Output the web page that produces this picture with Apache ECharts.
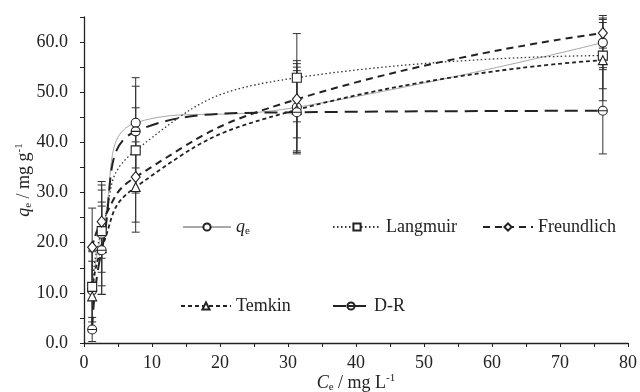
<!DOCTYPE html>
<html>
<head>
<meta charset="utf-8">
<script src="https://cdn.jsdelivr.net/npm/echarts@6/dist/echarts.min.js"></script>
<style>
  html, body { margin: 0; padding: 0; background: #fff; }
  #chart { width: 640px; height: 392px; }
</style>
</head>
<body>
<div id="chart"></div>
<script>
// equilibrium concentrations (Ce, mg/L)
const ce = [1.2, 2.6, 7.6, 31.3, 76.3];

// uptake values
const qe         = [10.5, 21.8, 43.9, 47.0, 59.9];
const langmuir   = [11.2, 22.3, 38.4, 52.9, 57.3];
const freundlich = [19.1, 24.2, 33.1, 48.6, 61.8];
const temkin     = [9.3, 18.9, 31.1, 46.5, 56.4];
const dr         = [2.7, 18.5, 42.2, 46.0, 46.3];

// +/- error half widths
const qeErr         = [8.0, 10.4, 9.0, 8.7, 5.4];
const langmuirErr   = [7.0, 8.2, 8.5, 8.8, 6.6];
const freundlichErr = [7.8, 7.3, 9.0, 7.7, 3.0];
const temkinErr     = [7.0, 9.2, 9.0, 8.5, 8.1];
const drErr         = [2.4, 8.8, 9.0, 8.3, 8.6];

const xTicks = [0, 10, 20, 30, 40, 50, 60, 70, 80];

const chartDom = document.getElementById('chart');
const myChart = echarts.init(chartDom);

const FONT = 'Liberation Serif';
const INK = '#222';

function pairs(ys) {
    return ce.map((x, i) => [x, ys[i]]);
}

function errData(ys, errs) {
    return ce.map((x, i) => [x, ys[i] - errs[i], ys[i] + errs[i]]);
}

function renderErr(params, api) {
    const lo = api.coord([api.value(0), api.value(1)]);
    const hi = api.coord([api.value(0), api.value(2)]);
    const w = 4;
    const style = { stroke: '#333', lineWidth: 1 };
    return {
        type: 'group',
        children: [
            { type: 'line', shape: { x1: lo[0], y1: lo[1], x2: hi[0], y2: hi[1] }, style: style },
            { type: 'line', shape: { x1: lo[0] - w, y1: lo[1], x2: lo[0] + w, y2: lo[1] }, style: style },
            { type: 'line', shape: { x1: hi[0] - w, y1: hi[1], x2: hi[0] + w, y2: hi[1] }, style: style }
        ]
    };
}

function errSeries(ys, errs) {
    return {
        type: 'custom',
        renderItem: renderErr,
        data: errData(ys, errs),
        encode: { x: 0, y: [1, 2] },
        z: 1,
        silent: true
    };
}

const DR_SYMBOL = 'path://M0,10 A10,10 0 1,1 20,10 A10,10 0 1,1 0,10 Z M0,10 L20,10';

function lineSeries(name, ys, symbol, size, lineStyle) {
    return {
        name: name,
        type: 'line',
        data: pairs(ys),
        smooth: 0.5,
        symbol: symbol,
        symbolSize: size,
        showAllSymbol: true,
        itemStyle: { color: '#fff', borderColor: INK, borderWidth: 1.1 },
        lineStyle: lineStyle,
        z: 3
    };
}

const richText = {
    i: { fontFamily: FONT, fontSize: 18, fontStyle: 'italic', color: INK },
    s: { fontFamily: FONT, fontSize: 11, color: INK, padding: [9, 0, 0, 0] },
    n: { fontFamily: FONT, fontSize: 18, color: INK },
    sup: { fontFamily: FONT, fontSize: 11, color: INK, padding: [0, 0, 9, 0] }
};

function legendAt(name, left, top, width) {
    return {
        data: [name],
        left: left,
        top: top,
        padding: 0,
        itemWidth: width,
        itemHeight: 9,
        itemGap: 4,
        formatter: function (n) { return n === 'qe' ? '{i|q}{s|e}' : '{n|' + n + '}'; },
        textStyle: { fontFamily: FONT, fontSize: 18, color: INK, rich: richText }
    };
}

const option = {
    animation: false,
    backgroundColor: '#fff',
    grid: { left: 84, right: 12, top: 17, bottom: 49, outerBoundsMode: 'none', containLabel: false },
    legend: [
        legendAt('qe', 182, 218, 48),
        legendAt('Langmuir', 332, 218, 48),
        legendAt('Freundlich', 482, 218, 50),
        legendAt('Temkin', 180, 297, 50),
        legendAt('D-R', 332, 297, 36)
    ],
    xAxis: {
        type: 'value',
        min: 0,
        max: 80,
        interval: 5,
        name: '{i|C}{s|e}{n| / mg L}{sup|-1}',
        nameLocation: 'middle',
        nameGap: 30,
        nameMoveOverlap: false,
        nameTextStyle: { rich: richText },
        axisLine: { lineStyle: { color: INK, width: 1.3 } },
        axisTick: { show: true, length: 4, lineStyle: { color: INK } },
        axisLabel: {
            fontFamily: FONT, fontSize: 18, color: INK, margin: 11,
            formatter: function (v) { return xTicks.indexOf(v) >= 0 ? String(v) : ''; }
        },
        splitLine: { show: false }
    },
    yAxis: {
        type: 'value',
        min: 0,
        max: 65,
        interval: 5,
        name: '{i|q}{s|e}{n| / mg g}{sup|-1}',
        nameLocation: 'middle',
        nameGap: 50,
        nameMoveOverlap: false,
        nameTextStyle: { rich: richText },
        axisLine: { show: true, lineStyle: { color: INK, width: 1.3 } },
        axisTick: { show: true, length: 4, lineStyle: { color: INK } },
        axisLabel: {
            fontFamily: FONT, fontSize: 18, color: INK, margin: 16,
            formatter: function (v) { return v % 10 === 0 ? v.toFixed(1) : ''; }
        },
        splitLine: { show: false }
    },
    series: [
        errSeries(qe, qeErr),
        errSeries(langmuir, langmuirErr),
        errSeries(freundlich, freundlichErr),
        errSeries(temkin, temkinErr),
        errSeries(dr, drErr),
        lineSeries('qe', qe, 'circle', 9, { color: '#a8a8a8', width: 1 }),
        lineSeries('Langmuir', langmuir, 'rect', 9, { color: '#333', width: 1.3, type: [1.5, 2.5] }),
        lineSeries('Freundlich', freundlich, 'diamond', [9, 11], { color: INK, width: 2, type: [7, 5] }),
        lineSeries('Temkin', temkin, 'triangle', 9, { color: INK, width: 1.8, type: [4, 3] }),
        lineSeries('D-R', dr, DR_SYMBOL, 9, { color: INK, width: 2, type: [13, 7] })
    ]
};

myChart.setOption(option);
</script>
</body>
</html>
